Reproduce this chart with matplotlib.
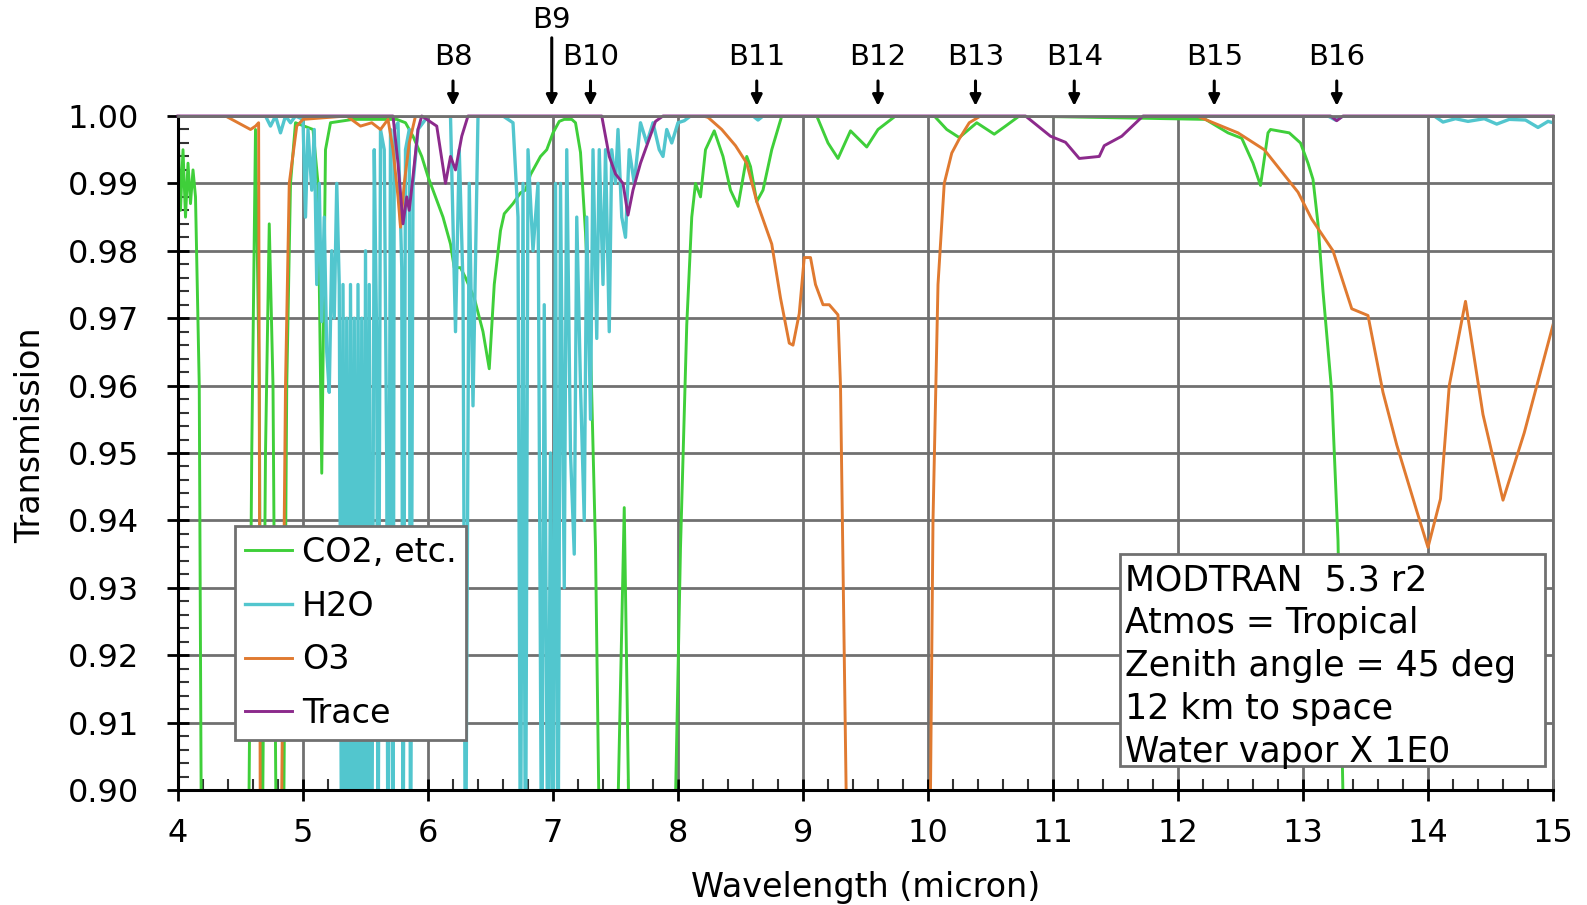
import matplotlib
matplotlib.use("Agg")
import matplotlib.pyplot as plt
from matplotlib.ticker import MultipleLocator, FormatStrFormatter
from matplotlib.patches import Rectangle

# --- data (values below 0.90 are off-scale) ---
co2_wl = [4.00, 4.02, 4.04, 4.06, 4.08, 4.10, 4.12, 4.14, 4.17, 4.19, 4.56, 4.59,
          4.62, 4.65, 4.67, 4.70, 4.73, 4.76, 4.79, 4.84, 4.87, 4.90, 4.94, 5.08,
          5.12, 5.15, 5.18, 5.22, 5.40, 5.75, 5.82, 5.88, 5.95, 6.00, 6.04, 6.12,
          6.18, 6.21, 6.26, 6.30, 6.37, 6.44, 6.49, 6.53, 6.58, 6.61, 6.68, 6.74,
          6.78, 6.82, 6.90, 6.95, 7.00, 7.05, 7.09, 7.15, 7.18, 7.22, 7.26, 7.30,
          7.34, 7.38, 7.50, 7.57, 7.62, 7.96, 8.02, 8.07, 8.11, 8.14, 8.18, 8.22,
          8.29, 8.36, 8.42, 8.48, 8.55, 8.58, 8.63, 8.68, 8.75, 8.83, 9.11, 9.20,
          9.28, 9.38, 9.51, 9.60, 9.74, 10.05, 10.15, 10.25, 10.39, 10.53, 10.62, 10.73,
          12.22, 12.40, 12.51, 12.60, 12.66, 12.72, 12.74, 12.89, 12.98, 13.04, 13.08, 13.12,
          13.16, 13.23, 13.28, 13.34, 15.00]
co2_tr = [0.998, 0.986, 0.995, 0.985, 0.993, 0.987, 0.992, 0.988, 0.960, 0.88, 0.88, 0.950,
          0.998, 0.960, 0.88, 0.950, 0.984, 0.960, 0.88, 0.88, 0.960, 0.990, 0.999, 0.998,
          0.990, 0.947, 0.995, 0.999, 0.9995, 0.9995, 0.999, 0.997, 0.994, 0.991, 0.989, 0.985,
          0.981, 0.9775, 0.9775, 0.976, 0.973, 0.968, 0.9625, 0.975, 0.983, 0.9855, 0.987, 0.9886,
          0.989, 0.9913, 0.994, 0.995, 0.9975, 0.9992, 0.9995, 0.9995, 0.999, 0.9946, 0.9827, 0.966,
          0.936, 0.88, 0.88, 0.9419, 0.88, 0.88, 0.936, 0.969, 0.985, 0.990, 0.988, 0.995,
          0.9978, 0.994, 0.989, 0.9866, 0.994, 0.9925, 0.9873, 0.989, 0.995, 1.0, 1.0, 0.996,
          0.9937, 0.9978, 0.9954, 0.998, 1.0, 1.0, 0.998, 0.9968, 0.999, 0.9973, 0.9985, 1.0,
          0.9995, 0.9975, 0.9967, 0.993, 0.9897, 0.9975, 0.998, 0.9975, 0.996, 0.993, 0.9906, 0.984,
          0.974, 0.959, 0.937, 0.88, 0.88]

h2o_wl = [4.00, 4.70, 4.74, 4.78, 4.82, 4.86, 4.90, 4.94, 5.00, 5.02, 5.04, 5.07,
          5.09, 5.11, 5.13, 5.15, 5.17, 5.19, 5.21, 5.23, 5.25, 5.27, 5.29, 5.31,
          5.32, 5.34, 5.35, 5.37, 5.38, 5.40, 5.41, 5.43, 5.44, 5.46, 5.47, 5.49,
          5.50, 5.52, 5.53, 5.55, 5.57, 5.59, 5.60, 5.62, 5.65, 5.67, 5.68, 5.70,
          5.72, 5.73, 5.76, 5.79, 5.80, 5.82, 5.85, 5.86, 5.88, 5.92, 6.00, 6.18,
          6.22, 6.25, 6.28, 6.30, 6.33, 6.36, 6.40, 6.60, 6.68, 6.72, 6.74, 6.76,
          6.78, 6.80, 6.84, 6.88, 6.91, 6.93, 6.96, 6.98, 7.00, 7.02, 7.04, 7.06,
          7.09, 7.11, 7.14, 7.17, 7.19, 7.22, 7.25, 7.27, 7.30, 7.32, 7.35, 7.37,
          7.40, 7.42, 7.45, 7.47, 7.50, 7.52, 7.55, 7.58, 7.61, 7.65, 7.70, 7.75,
          7.80, 7.85, 7.88, 7.91, 7.95, 8.00, 8.05, 8.10, 8.60, 8.64, 8.68, 13.20,
          13.26, 13.32, 14.05, 14.12, 14.22, 14.32, 14.45, 14.55, 14.65, 14.78, 14.88, 14.96,
          15.00]
h2o_tr = [1.0, 1.0, 0.9985, 1.0, 0.9975, 1.0, 0.999, 1.0, 0.9995, 0.985, 0.998, 0.989,
          0.998, 0.975, 0.990, 0.9695, 0.985, 0.965, 0.959, 0.980, 0.970, 0.990, 0.975, 0.88,
          0.975, 0.88, 0.970, 0.88, 0.975, 0.88, 0.970, 0.88, 0.975, 0.88, 0.970, 0.88,
          0.980, 0.88, 0.975, 0.88, 0.995, 0.966, 0.88, 0.998, 0.995, 0.948, 0.88, 0.998,
          0.88, 0.998, 0.999, 0.9775, 0.88, 0.995, 0.998, 0.88, 0.990, 0.998, 1.0, 1.0,
          0.968, 0.995, 0.975, 0.88, 0.990, 0.957, 1.0, 1.0, 0.999, 0.985, 0.88, 0.990,
          0.88, 0.995, 0.980, 0.990, 0.88, 0.972, 0.88, 0.950, 0.88, 0.990, 0.88, 0.990,
          0.930, 0.995, 0.950, 0.935, 0.985, 0.960, 0.940, 0.985, 0.955, 0.995, 0.967, 0.995,
          0.975, 0.995, 0.968, 0.995, 0.990, 0.998, 0.985, 0.982, 0.995, 0.990, 0.999, 0.996,
          0.999, 0.995, 0.994, 0.998, 0.996, 0.999, 0.9993, 1.0, 1.0, 0.9994, 1.0, 1.0,
          0.9994, 1.0, 1.0, 0.9991, 0.9996, 0.9992, 0.9996, 0.9988, 0.9995, 0.9994, 0.9983, 0.9992,
          0.9990]

o3_wl = [4.00, 4.38, 4.48, 4.58, 4.62, 4.645, 4.66, 4.82, 4.86, 4.89, 4.95, 5.00,
         5.35, 5.46, 5.55, 5.62, 5.68, 5.72, 5.76, 5.78, 5.81, 5.85, 5.90, 8.20,
         8.24, 8.35, 8.46, 8.55, 8.63, 8.75, 8.82, 8.89, 8.92, 8.97, 9.01, 9.06,
         9.10, 9.16, 9.21, 9.28, 9.30, 9.36, 10.01, 10.04, 10.08, 10.13, 10.19, 10.25,
         10.33, 10.42, 12.15, 12.48, 12.69, 12.96, 13.07, 13.24, 13.39, 13.52, 13.64, 13.75,
         13.91, 14.00, 14.10, 14.17, 14.30, 14.44, 14.60, 14.77, 15.00]
o3_tr = [1.0, 1.0, 0.999, 0.998, 0.9985, 0.999, 0.88, 0.88, 0.96, 0.99, 0.9985, 0.9995,
         1.0, 0.9985, 0.999, 0.998, 0.9995, 0.995, 0.988, 0.9835, 0.99, 0.996, 1.0, 1.0,
         0.9998, 0.998, 0.9956, 0.993, 0.9873, 0.981, 0.973, 0.9663, 0.966, 0.9707, 0.979, 0.979,
         0.975, 0.972, 0.972, 0.9705, 0.960, 0.88, 0.88, 0.94, 0.975, 0.990, 0.9945, 0.9966,
         0.999, 1.0, 1.0, 0.9975, 0.995, 0.9887, 0.9847, 0.980, 0.9714, 0.9704, 0.959, 0.9512,
         0.9414, 0.936, 0.9432, 0.960, 0.9725, 0.9557, 0.943, 0.953, 0.969]

trace_wl = [4.00, 5.72, 5.76, 5.80, 5.83, 5.85, 5.88, 5.92, 5.95, 6.07, 6.14, 6.18,
            6.22, 6.27, 6.32, 7.39, 7.45, 7.50, 7.56, 7.60, 7.64, 7.70, 7.82, 7.88,
            10.78, 10.98, 11.10, 11.21, 11.37, 11.41, 11.55, 11.72, 13.22, 13.27, 13.32, 15.00]
trace_tr = [1.0, 1.0, 0.993, 0.984, 0.988, 0.986, 0.991, 0.998, 1.0, 0.9985, 0.990, 0.994,
            0.992, 0.997, 1.0, 1.0, 0.994, 0.9914, 0.990, 0.9853, 0.989, 0.993, 0.9992, 1.0,
            1.0, 0.997, 0.9961, 0.9937, 0.994, 0.9956, 0.997, 1.0, 1.0, 0.9993, 1.0, 1.0]

band_names = ["B8", "B9", "B10", "B11", "B12", "B13", "B14", "B15", "B16"]
band_wl = [6.20, 6.99, 7.30, 8.63, 9.60, 10.38, 11.17, 12.29, 13.27]

info_lines = ["MODTRAN  5.3 r2", "Atmos = Tropical", "Zenith angle = 45 deg",
              "12 km to space", "Water vapor X 1E0"]

plt.rcParams["font.family"] = "DejaVu Sans"

fig = plt.figure(figsize=(15.87, 9.05), dpi=100)
ax = fig.add_axes([178 / 1587, 1 - 790 / 905, 1375 / 1587, 674 / 905])

ax.plot(co2_wl, co2_tr, color="#3fcf3a", lw=2.1, label="CO2, etc.")
ax.plot(h2o_wl, h2o_tr, color="#52c6ce", lw=2.4, label="H2O")
ax.plot(o3_wl, o3_tr, color="#e07a30", lw=2.1, label="O3")
ax.plot(trace_wl, trace_tr, color="#8c2a8c", lw=2.1, label="Trace", clip_on=False)

ax.set_xlim(4, 15)
ax.set_ylim(0.90, 1.00)
ax.xaxis.set_major_locator(MultipleLocator(1))
ax.xaxis.set_minor_locator(MultipleLocator(0.2))
ax.yaxis.set_major_locator(MultipleLocator(0.01))
ax.yaxis.set_minor_locator(MultipleLocator(0.002))
ax.yaxis.set_major_formatter(FormatStrFormatter("%.2f"))

ax.grid(True, which="major", color="#707070", lw=2)
ax.set_axisbelow(True)
ax.tick_params(which="major", direction="inout", length=16, width=2, labelsize=23,
               colors="black")
ax.tick_params(axis="y", which="major", pad=20)
ax.tick_params(axis="x", which="major", pad=12)
ax.tick_params(which="minor", direction="in", length=8, width=1.5, color="#333333")
for side in ["left", "bottom"]:
    ax.spines[side].set_linewidth(2.2)
for side in ["top", "right"]:
    ax.spines[side].set_color("#707070")
    ax.spines[side].set_linewidth(2)

ax.set_xlabel("Wavelength (micron)", fontsize=24, va="top")
ax.xaxis.set_label_coords(0.5, -0.12)
ax.set_ylabel("Transmission", fontsize=24)
ax.yaxis.set_label_coords(-0.095, 0.527)

leg = ax.legend(loc="lower left", bbox_to_anchor=(0.0415, 0.074), borderaxespad=0,
                fontsize=24, handlelength=1.4, handletextpad=0.3, labelspacing=0.62,
                borderpad=0.3, fancybox=False, framealpha=1)
leg.get_frame().set_edgecolor("#707070")
leg.get_frame().set_linewidth(2)

# info box
ax.add_patch(Rectangle((0.685, 0.036), 0.309, 0.314, transform=ax.transAxes,
                       facecolor="white", edgecolor="#707070", lw=2, zorder=5))
ax.text(0.689, 0.336, "\n".join(info_lines), transform=ax.transAxes, fontsize=25,
        va="top", ha="left", linespacing=1.33, zorder=6)

# band markers
for name, wl in zip(band_names, band_wl):
    if name == "B9":
        tail, ty = 1.0116, 1.0142
    else:
        tail, ty = 1.0052, 1.0088
    ax.annotate("", xy=(wl, 1.0015), xytext=(wl, tail), annotation_clip=False,
                arrowprops=dict(arrowstyle="-|>", color="black", lw=2.2,
                                mutation_scale=16, shrinkA=0, shrinkB=0))
    ax.text(wl, ty, name, fontsize=21, ha="center", va="center", clip_on=False)

fig.savefig("out.png", dpi=100)
